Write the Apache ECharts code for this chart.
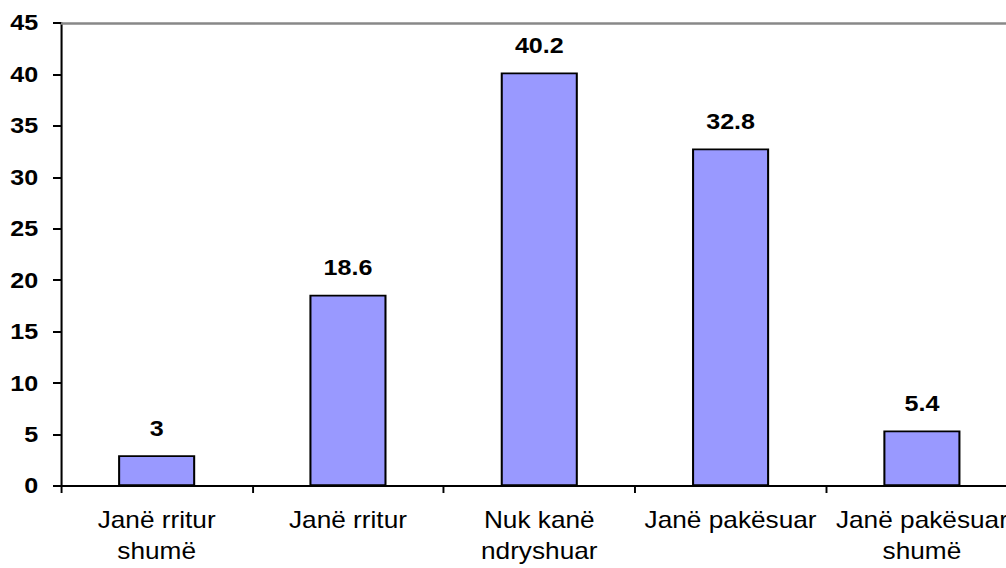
<!DOCTYPE html>
<html>
<head>
<meta charset="utf-8">
<script src="https://cdn.jsdelivr.net/npm/echarts@6/dist/echarts.min.js"></script>
<style>
html,body{margin:0;padding:0;background:#fff;overflow:hidden;}
#wrap{width:1006px;height:568px;overflow:hidden;position:relative;}
#chart{width:903.5px;height:568px;transform:scaleX(1.14);transform-origin:0 0;}
</style>
</head>
<body>
<div id="wrap"><div id="chart"></div></div>
<script>
const categories = ["Janë rritur\nshumë", "Janë rritur", "Nuk kanë\nndryshuar", "Janë pakësuar", "Janë pakësuar\nshumë"];
const values = [3, 18.6, 40.2, 32.8, 5.4];
const yTicks = { min: 0, max: 45, interval: 5 };

const chart = echarts.init(document.getElementById('chart'), null, { renderer: 'svg' });
const font = 'Arial, "Liberation Sans", sans-serif';
chart.setOption({
  animation: false,
  grid: { left: 53.5, right: 11.4, top: 23, bottom: 82, containLabel: false, outerBoundsMode: 'none' },
  xAxis: [{
    type: 'category',
    data: categories,
    position: 'bottom',
    axisLine: { show: true, lineStyle: { color: '#000', width: 2 } },
    axisTick: { show: true, length: 7, lineStyle: { color: '#000', width: 1.7 } },
    axisLabel: { interval: 0, color: '#000', fontFamily: font, fontSize: 23, lineHeight: 31, margin: 19 },
    splitLine: { show: false }
  }, {
    type: 'category',
    data: categories,
    position: 'top',
    axisLine: { show: true, lineStyle: { color: '#888', width: 2.5 } },
    axisTick: { show: false },
    axisLabel: { show: false }
  }],
  yAxis: {
    type: 'value',
    min: yTicks.min, max: yTicks.max, interval: yTicks.interval,
    axisLine: { show: true, lineStyle: { color: '#000', width: 1.8 } },
    axisTick: { show: true, length: 7, lineStyle: { color: '#000', width: 2 } },
    axisLabel: { color: '#000', fontFamily: font, fontSize: 22, fontWeight: 'bold', margin: 20 },
    splitLine: { show: false }
  },
  series: [{
    type: 'bar',
    data: values,
    barWidth: '40.3%',
    itemStyle: { color: '#9999FF', borderColor: '#000', borderWidth: 1.8 },
    label: { show: true, position: 'top', distance: 16, color: '#000', fontFamily: font, fontSize: 22, fontWeight: 'bold' }
  }]
});
</script>
</body>
</html>
